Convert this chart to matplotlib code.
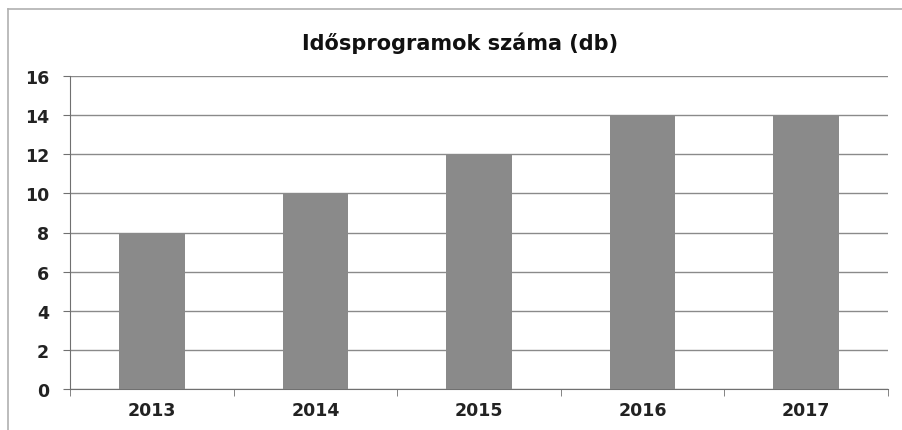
import matplotlib
matplotlib.use("Agg")
import matplotlib.pyplot as plt
from matplotlib.lines import Line2D

years = ["2013", "2014", "2015", "2016", "2017"]
values = [8, 10, 12, 14, 14]
yticks = [0, 2, 4, 6, 8, 10, 12, 14, 16]
title = "Idősprogramok száma (db)"

plt.rcParams['font.family'] = ['DejaVu Sans']

fig = plt.figure(figsize=(9.03, 4.31), dpi=100)
top_y = 1 - 10/431
left_x = 8/903
fig.lines.append(Line2D([left_x, 1.0], [top_y, top_y], transform=fig.transFigure,
                        color='#b0b0b0', linewidth=1.2))
fig.lines.append(Line2D([left_x, left_x], [0.0, top_y], transform=fig.transFigure,
                        color='#b0b0b0', linewidth=1.2))
ax = fig.add_axes([70/903, 1 - 390/431, (888-70)/903, (390-77)/431])

x = list(range(len(years)))
ax.bar(x, values, width=0.4, color='#8a8a8a', zorder=3)
ax.set_xlim(-0.5, len(years) - 0.5)
ax.set_ylim(0, 16)
ax.set_yticks(yticks)
ax.set_yticklabels([str(v) for v in yticks], fontsize=12.5, fontweight='bold', color='#222222')
ax.set_xticks(x)
ax.set_xticklabels(years, fontsize=12.5, fontweight='bold', color='#222222')
ax.tick_params(axis='x', length=0, pad=9)
ax.set_xticks([i + 0.5 for i in range(-1, len(years))], minor=True)
ax.tick_params(axis='x', which='minor', length=5, color='#707070')
ax.tick_params(axis='y', length=5, color='#707070', pad=10)
ax.grid(axis='y', color='#8a8a8a', linewidth=1.0, zorder=0)
for s in ['top', 'right']:
    ax.spines[s].set_visible(False)
for s in ['left', 'bottom']:
    ax.spines[s].set_color('#707070')
fig.text(460/903, 1 - 43/431, title, fontsize=15, fontweight='bold', color='#111111',
         ha='center', va='center')

fig.savefig("out.png", dpi=100)
